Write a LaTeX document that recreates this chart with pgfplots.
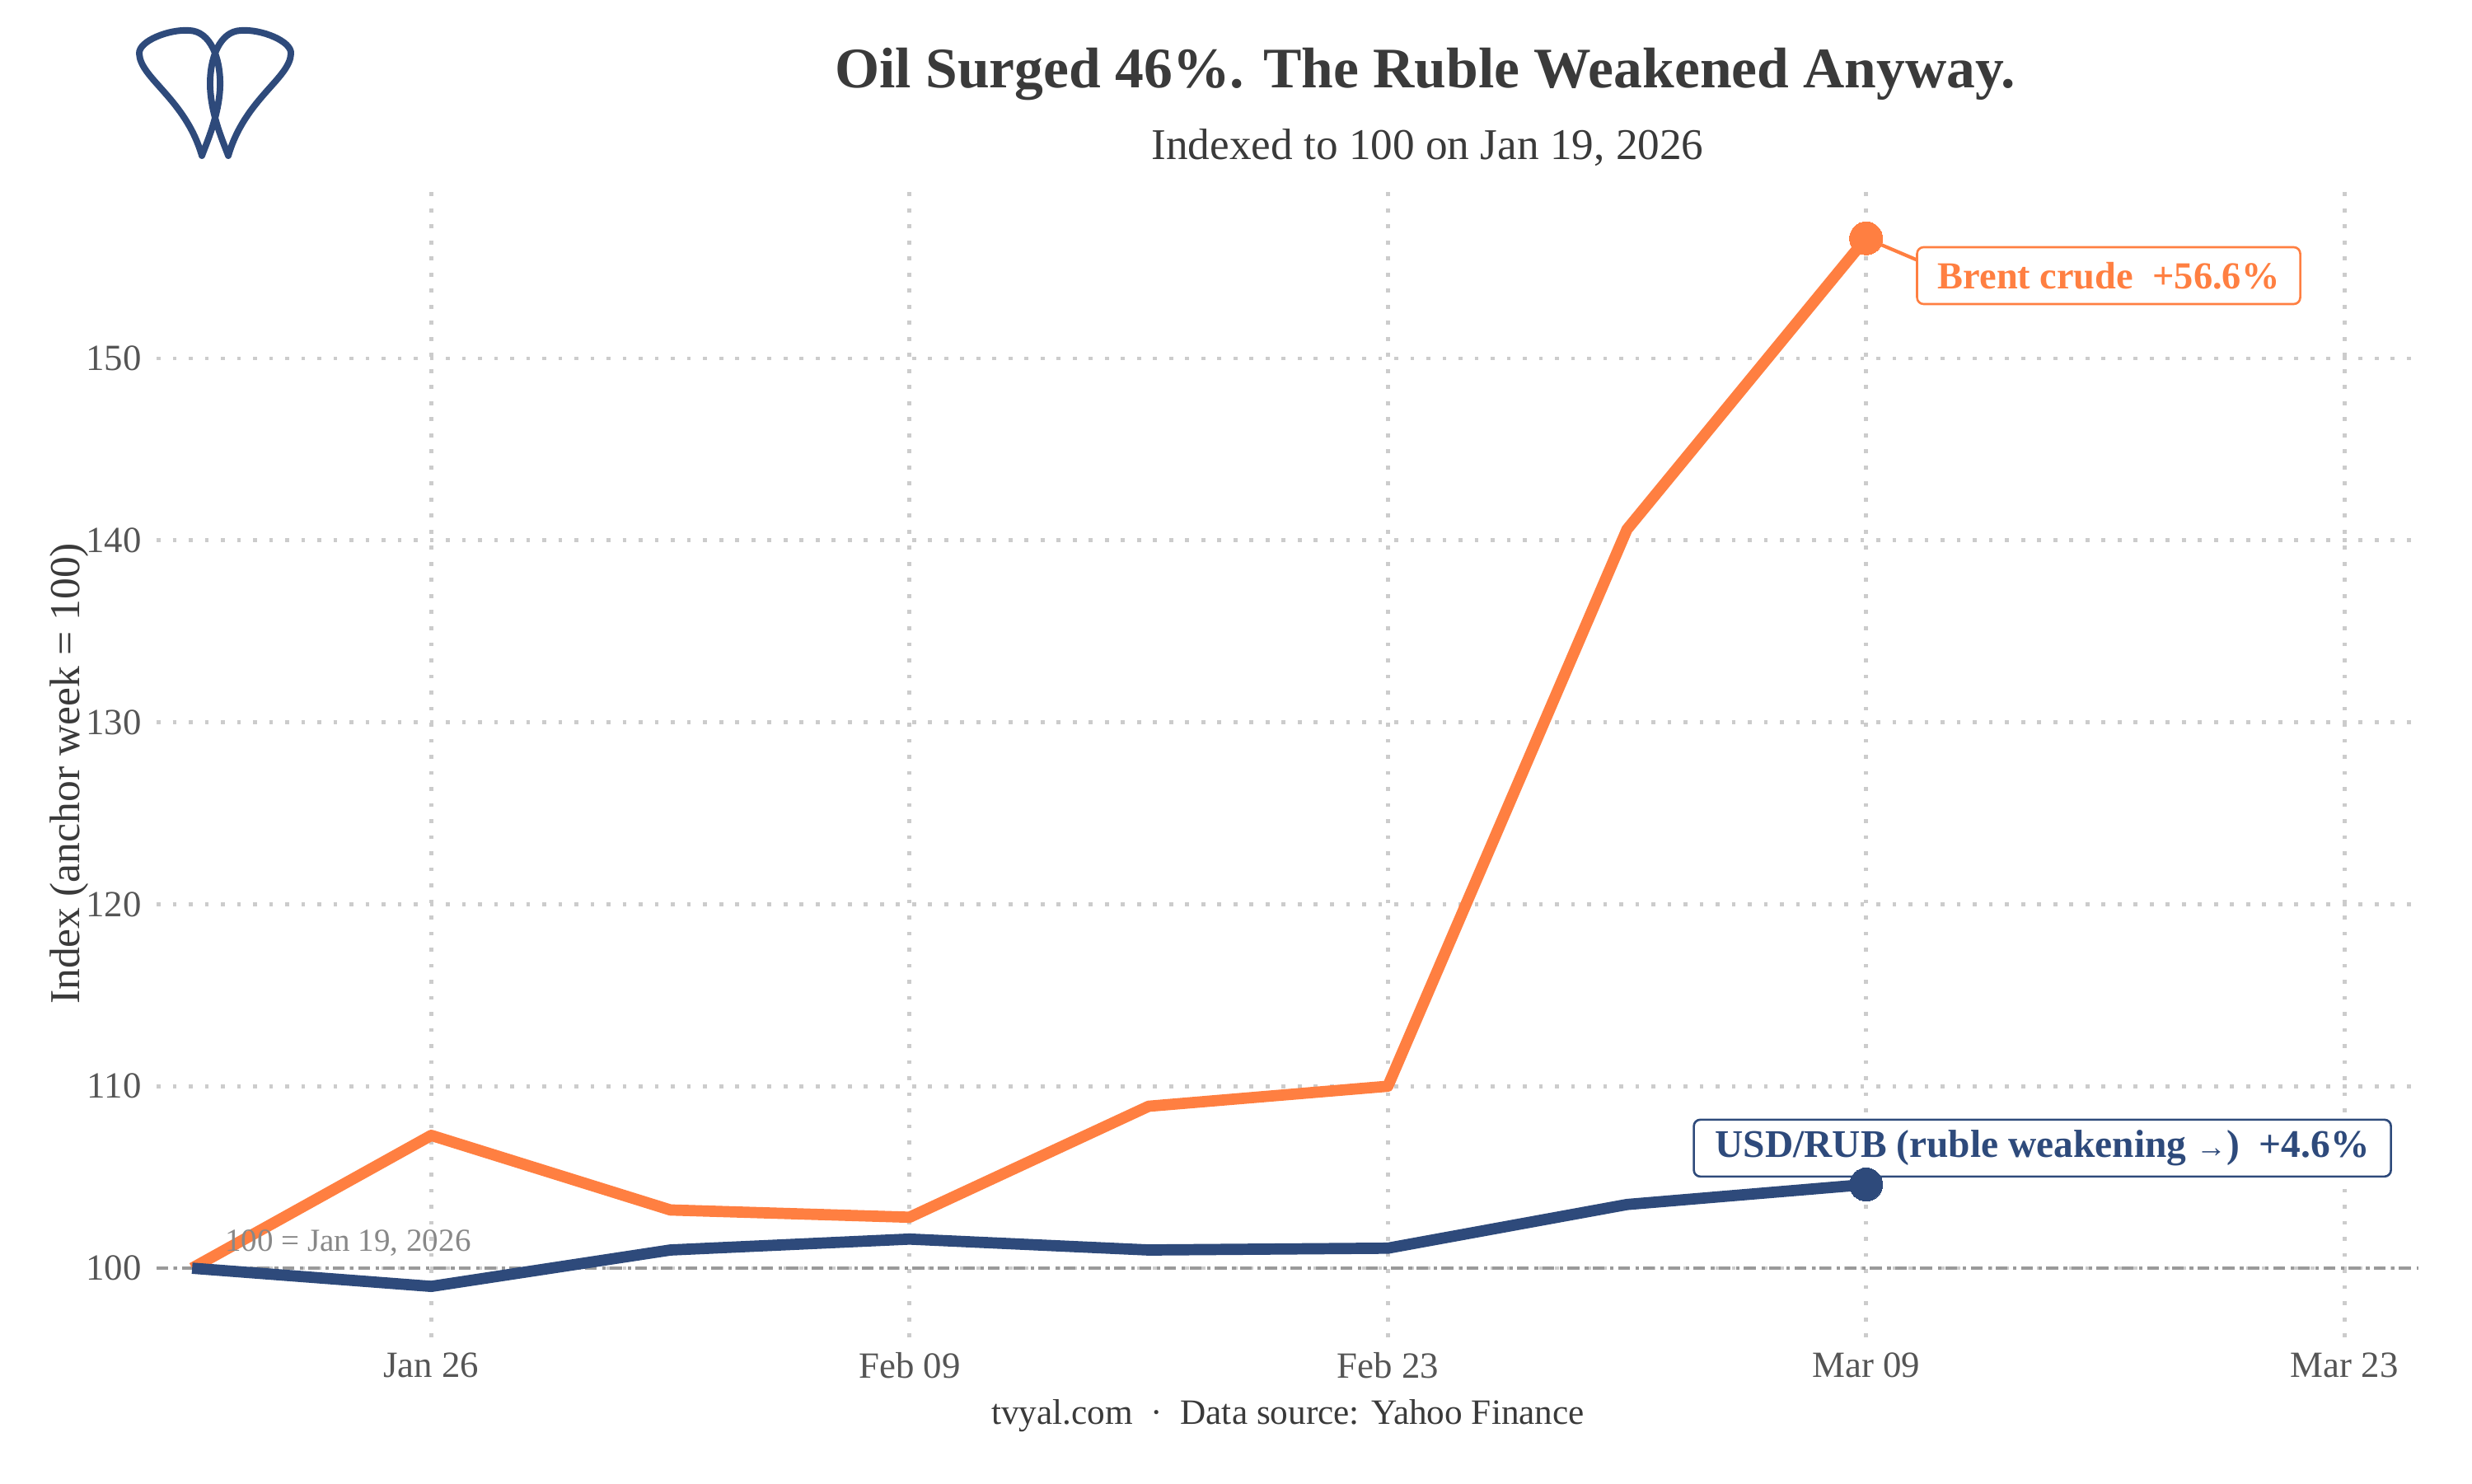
\documentclass[border=0pt]{standalone}
\usepackage{pgfplots}
\pgfplotsset{compat=1.18}
\usepackage{pgfplotstable}
\usepackage{fontspec}
\setmainfont{Liberation Serif}

\definecolor{brent}{HTML}{FF7F41}
\definecolor{rub}{HTML}{2E4A7B}
\definecolor{txt}{HTML}{3A3A3A}
\definecolor{tickc}{HTML}{555555}
\definecolor{gridc}{HTML}{CCCCCC}
\definecolor{refc}{HTML}{9A9A9A}
\definecolor{notec}{HTML}{888888}

% days since Jan 19, 2026; weekly index values
\pgfplotstableread{
day brent rub
0  100.0 100.0
7  107.3  99.0
14 103.2 101.0
21 102.8 101.6
28 108.9 101.0
35 110.0 101.1
42 140.6 103.5
49 156.6 104.6
}\weekly

\begin{document}
\begin{tikzpicture}
\useasboundingbox (0,0) rectangle (20cm,12cm);

% logo
\begin{scope}[x=0.0066667cm, y=-0.0066667cm, yshift=12cm, rub, line width=1.5pt, line join=round]
\draw (245,189) .. controls (225,120) and (170,95) .. (169,65)
  .. controls (168,50) and (205,35) .. (230,37)
  .. controls (255,38) and (268,70) .. (267,105)
  .. controls (266,140) and (250,175) .. (245,189) -- cycle;
\draw (277,189) .. controls (297,120) and (352,95) .. (353,65)
  .. controls (354,50) and (317,35) .. (292,37)
  .. controls (267,38) and (254,70) .. (255,105)
  .. controls (256,140) and (272,175) .. (277,189) -- cycle;
\end{scope}

\node[anchor=base, font=\bfseries\fontsize{13.2}{16}\selectfont, text=txt]
  at (11.53cm,11.29cm) {Oil Surged 46\%. The Ruble Weakened Anyway.};
\node[anchor=base, font=\fontsize{10.1}{12}\selectfont, text=txt]
  at (11.55cm,10.71cm) {Indexed to 100 on Jan 19, 2026};

\begin{axis}[
    at={(1.267cm,1.18cm)}, anchor=south west,
    scale only axis, width=18.3cm, height=9.307cm,
    xmin=-1.04, xmax=65.17, ymin=96.2, ymax=159.42,
    xtick={7,21,35,49,63},
    xticklabels={Jan 26,Feb 09,Feb 23,Mar 09,Mar 23},
    ytick={100,110,120,130,140,150},
    axis line style={draw=none}, tick style={draw=none},
    xmajorgrids, ymajorgrids,
    grid style={gridc, line width=0.9pt, dash pattern=on 0.9pt off 2.8pt},
    ticklabel style={font=\fontsize{8.5}{10}\selectfont, text=tickc},
    /pgf/number format/assume math mode=true,
    ylabel={Index (anchor week = 100)},
    ylabel style={font=\fontsize{9.8}{12}\selectfont, text=txt,
        at={(axis description cs:-0.0387,0.49)}, anchor=center},
    clip=false,
    ]

\addplot[refc, line width=0.75pt, dash pattern=on 2.7pt off 1.3pt on 0.8pt off 1pt]
    coordinates {(-1.04,100) (65.17,100)};

\addplot[brent, line width=2.6pt, line join=round, mark=*, mark indices={8},
    mark size=3.8pt, mark options={solid, fill=brent, draw=brent, line width=0pt}]
    table[x=day, y=brent] {\weekly};
\addplot[rub, line width=2.6pt, line join=round, mark=*, mark indices={8},
    mark size=3.8pt, mark options={solid, fill=rub, draw=rub, line width=0pt}]
    table[x=day, y=rub] {\weekly};

\node[anchor=base west, inner sep=0pt, text=notec, font=\fontsize{7.4}{9}\selectfont]
    at (axis cs:0.94,100.95) {100 = Jan 19, 2026};

\draw[brent, line width=0.8pt] (axis cs:49,156.6) -- (axis cs:50.5,155.4);
\node[draw=brent, fill=white, rounded corners=1.5pt, line width=0.5pt,
    text=brent, font=\bfseries\fontsize{8.8}{10}\selectfont,
    minimum width=3.1cm, minimum height=0.46cm, inner sep=1pt]
    at (axis cs:56.1,154.55) {Brent crude\enspace +56.6\%};
\node[draw=rub, fill=white, rounded corners=1.5pt, line width=0.5pt,
    text=rub, font=\bfseries\fontsize{9}{10}\selectfont,
    minimum width=5.64cm, minimum height=0.46cm, inner sep=1pt]
    at (axis cs:54.16,106.6) {USD/RUB (ruble weakening {\fontsize{7}{8}\selectfont →})\enspace +4.6\%};
\end{axis}

\node[anchor=base, font=\fontsize{8.2}{10}\selectfont, text=txt]
  at (10.42cm,0.48cm) {tvyal.com\enspace·\enspace Data source: Yahoo Finance};
\end{tikzpicture}
\end{document}
